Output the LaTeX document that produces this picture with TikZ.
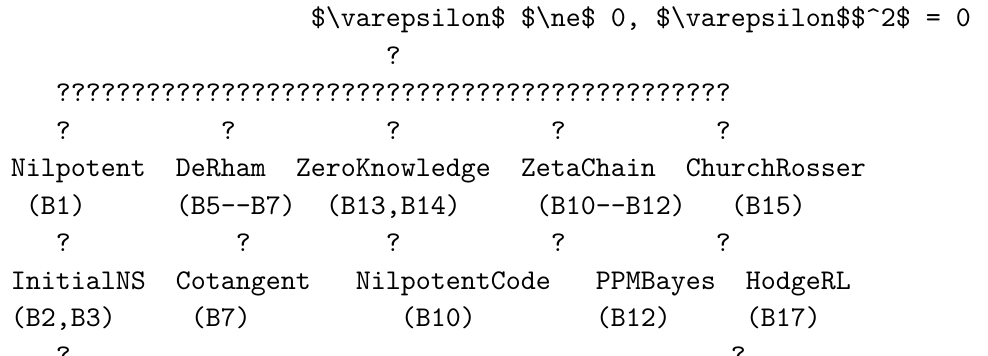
\documentclass[tikz,border=0pt]{standalone}
\usepackage{fontspec}

% monospaced character grid: one x unit = one character cell, one y unit = one line
\tikzset{
  cell/.style={anchor=base west, inner sep=0pt, outer sep=0pt,
               font=\ttfamily\fontsize{10}{12}\selectfont},
}
\newcommand\putat[4]{\node[cell] (#1) at ({#2+0.733},{#3+0.72}) {#4};}

\begin{document}
\begin{tikzpicture}[x=5.25pt, y=-13.125pt]
  \useasboundingbox (0,0) rectangle (65.87,9.493);

  % top formula and its stem
  \putat{eq}{20}{0}{\$\textbackslash varepsilon\$ \$\textbackslash ne\$ 0, \$\textbackslash varepsilon\$\$\textasciicircum 2\$ = 0}
  \putat{stem}{25}{1}{?}

  % distribution bar
  \putat{bar}{3}{2}{?????????????????????????????????????????????}

  % arrows into the first tier
  \putat{a1}{3}{3}{?}
  \putat{a2}{14}{3}{?}
  \putat{a3}{25}{3}{?}
  \putat{a4}{36}{3}{?}
  \putat{a5}{47}{3}{?}

  % first tier
  \putat{n1}{0}{4}{Nilpotent}
  \putat{n2}{11}{4}{DeRham}
  \putat{n3}{19}{4}{ZeroKnowledge}
  \putat{n4}{34}{4}{ZetaChain}
  \putat{n5}{45}{4}{ChurchRosser}

  \putat{r1}{1}{5}{(B1)}
  \putat{r2}{11}{5}{(B5-{}-B7)}
  \putat{r3}{21}{5}{(B13,B14)}
  \putat{r4}{35}{5}{(B10-{}-B12)}
  \putat{r5}{48}{5}{(B15)}

  % arrows into the second tier
  \putat{b1}{3}{6}{?}
  \putat{b2}{15}{6}{?}
  \putat{b3}{25}{6}{?}
  \putat{b4}{36}{6}{?}
  \putat{b5}{47}{6}{?}

  % second tier
  \putat{m1}{0}{7}{InitialNS}
  \putat{m2}{11}{7}{Cotangent}
  \putat{m3}{23}{7}{NilpotentCode}
  \putat{m4}{39}{7}{PPMBayes}
  \putat{m5}{49}{7}{HodgeRL}

  \putat{s1}{0}{8}{(B2,B3)}
  \putat{s2}{12}{8}{(B7)}
  \putat{s3}{26}{8}{(B10)}
  \putat{s4}{39}{8}{(B12)}
  \putat{s5}{49}{8}{(B17)}

  % continuing stems
  \putat{c1}{3}{9}{?}
  \putat{c5}{48}{9}{?}
\end{tikzpicture}
\end{document}
